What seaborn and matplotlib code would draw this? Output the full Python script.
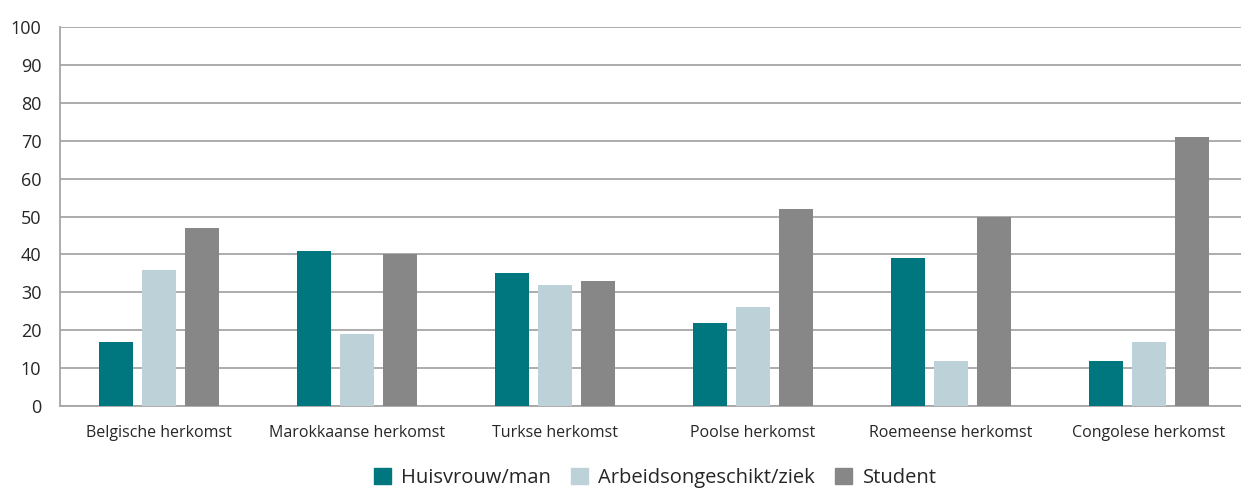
import pandas as pd
import matplotlib.pyplot as plt
import seaborn as sns
import numpy as np

categories = ['Belgische herkomst', 'Marokkaanse herkomst', 'Turkse herkomst',
              'Poolse herkomst', 'Roemeense herkomst', 'Congolese herkomst']
huisvrouw = [17, 41, 35, 22, 39, 12]
arbeidsongeschikt = [36, 19, 32, 26, 12, 17]
student = [47, 40, 33, 52, 50, 71]
series = ['Huisvrouw/man', 'Arbeidsongeschikt/ziek', 'Student']
colors = ['#00767f', '#bdd2d8', '#878787']

df = pd.DataFrame({'herkomst': categories * 3,
                   'groep': np.repeat(series, len(categories)),
                   'waarde': huisvrouw + arbeidsongeschikt + student})

sns.set_style('white')
plt.rcParams['font.family'] = ['Open Sans', 'DejaVu Sans']

fig = plt.figure(figsize=(12.41, 4.88), dpi=100)
ax = fig.add_axes([60/1241, 82/488, 1188/1241, 379/488])
sns.barplot(data=df, x='herkomst', y='waarde', hue='groep', hue_order=series,
            order=categories, palette=colors, width=0.652, gap=0.21,
            errorbar=None, saturation=1, linewidth=0, ax=ax, zorder=3)

ax.set_ylim(0, 100)
ax.set_xlim(-0.5, 5.5)
ax.set_yticks(range(0, 101, 10))
ax.yaxis.grid(True, color='#a6a6a6', linewidth=1.3, zorder=0)
ax.set_axisbelow(True)
for s in ['top', 'right']:
    ax.spines[s].set_visible(False)
for s in ['left', 'bottom']:
    ax.spines[s].set_color('#a6a6a6')
    ax.spines[s].set_linewidth(1.3)
ax.set_xlabel('')
ax.set_ylabel('')
ax.tick_params(axis='y', length=0, pad=13.5, labelsize=13, labelcolor='#262626')
ax.tick_params(axis='x', which='major', length=0, pad=14, labelsize=11.5, labelcolor='#262626')
ax.set_xticks(np.arange(0.5, 5, 1), minor=True)
ax.tick_params(axis='x', which='minor', direction='in', length=9, width=1.3, color='#a6a6a6')

handles = [plt.Rectangle((0, 0), 1, 1, color=c) for c in colors]
ax.get_legend().remove()
fig.legend(handles, series, loc='center', bbox_to_anchor=(0.528, 0.02), ncol=3,
           frameon=False, fontsize=14.5, handlelength=0.85, handleheight=0.85,
           handletextpad=0.5, columnspacing=1.0, labelcolor='#262626')

fig.savefig('out.png', dpi=100)
